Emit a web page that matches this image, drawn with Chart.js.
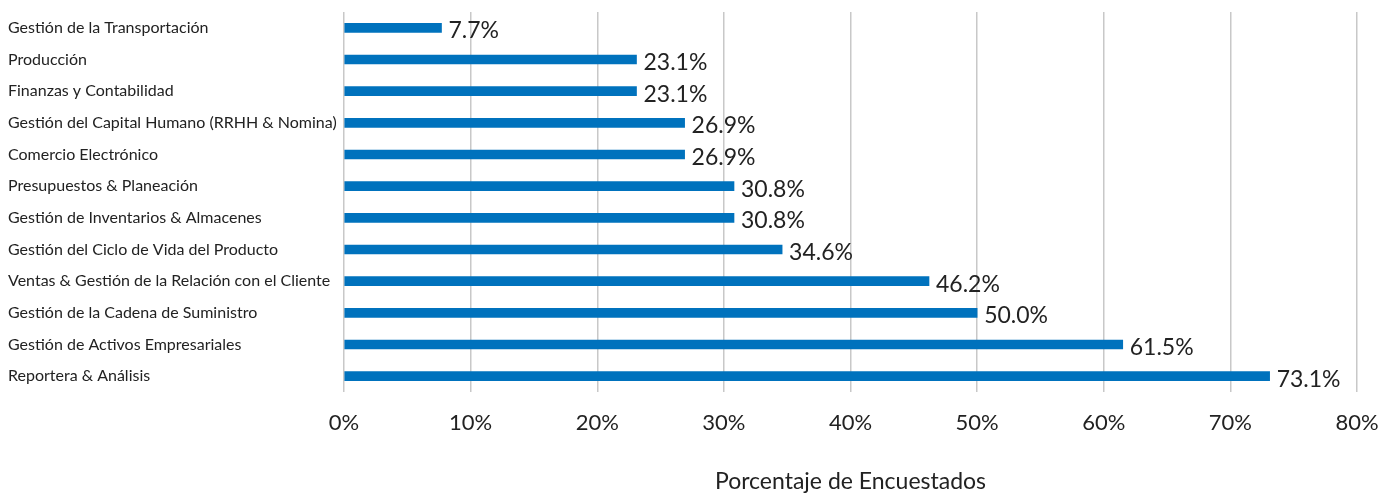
<!DOCTYPE html>
<html lang="es">
  <head>
    <meta charset="UTF-8" />
    <title>Porcentaje de Encuestados</title>
    <script src="https://cdn.jsdelivr.net/npm/chart.js"></script>
    <style>
      html, body { margin: 0; padding: 0; background: #fff; }
      .wrap { width: 1386px; height: 495px; position: relative; }
    </style>
  </head>
  <body>
    <div class="wrap">
      <canvas id="modulos"></canvas>
    </div>

    <script>
      // Datos
      const categorias = [
        "Gestión de la Transportación",
        "Producción",
        "Finanzas y Contabilidad",
        "Gestión del Capital Humano (RRHH & Nomina)",
        "Comercio Electrónico",
        "Presupuestos & Planeación",
        "Gestión de Inventarios & Almacenes",
        "Gestión del Ciclo de Vida del Producto",
        "Ventas & Gestión de la Relación con el Cliente",
        "Gestión de la Cadena de Suministro",
        "Gestión de Activos Empresariales",
        "Reportera & Análisis",
      ];
      const porcentajes = [7.7, 23.1, 23.1, 26.9, 26.9, 30.8, 30.8, 34.6, 46.2, 50.0, 61.5, 73.1];
      const ticksX = [0, 10, 20, 30, 40, 50, 60, 70, 80];

      const fuente = "Lato, 'Open Sans', sans-serif";

      // etiquetas de valor a la derecha de cada barra
      const etiquetas = {
        id: "etiquetas",
        afterDatasetsDraw(chart) {
          const ctx = chart.ctx;
          const meta = chart.getDatasetMeta(0);
          ctx.save();
          ctx.font = "23px " + fuente;
          ctx.fillStyle = "#222";
          ctx.textBaseline = "middle";
          ctx.textAlign = "left";
          meta.data.forEach((bar, i) => {
            ctx.fillText(porcentajes[i].toFixed(1) + "%", bar.x + 7, bar.y + 3);
          });
          ctx.restore();
        },
      };

      new Chart(document.getElementById("modulos"), {
        type: "bar",
        data: {
          labels: categorias,
          datasets: [
            {
              data: porcentajes,
              backgroundColor: "#0072bd",
              barThickness: 9,
            },
          ],
        },
        options: {
          indexAxis: "y",
          responsive: true,
          maintainAspectRatio: false,
          animation: false,
          layout: { padding: { left: 8, right: 29, top: 12, bottom: 0 } },
          plugins: {
            legend: { display: false },
            tooltip: { enabled: false },
          },
          scales: {
            x: {
              min: 0,
              max: 80,
              afterBuildTicks: (scale) => {
                scale.ticks = ticksX.map((v) => ({ value: v }));
              },
              afterFit: (scale) => {
                // la etiqueta 80% cabe en el margen derecho
                scale.paddingRight = 0;
                scale.paddingLeft = 0;
              },
              ticks: {
                callback: (v) => v + "%",
                font: { family: fuente, size: 22 },
                color: "#222",
                padding: 18,
                maxRotation: 0,
              },
              grid: { color: "#c8c8c8", lineWidth: 1.5, drawTicks: false },
              border: { display: false },
              title: {
                display: true,
                text: "Porcentaje de Encuestados",
                font: { family: fuente, size: 23 },
                color: "#222",
                padding: { top: 13, bottom: 0 },
              },
            },
            y: {
              ticks: {
                font: { family: fuente, size: 16 },
                color: "#222",
                crossAlign: "far",
                padding: 0,
              },
              grid: { display: false, drawTicks: false },
              border: { display: false },
              afterFit: (scale) => {
                scale.width = 336;
              },
            },
          },
        },
        plugins: [etiquetas],
      });
    </script>
  </body>
</html>
